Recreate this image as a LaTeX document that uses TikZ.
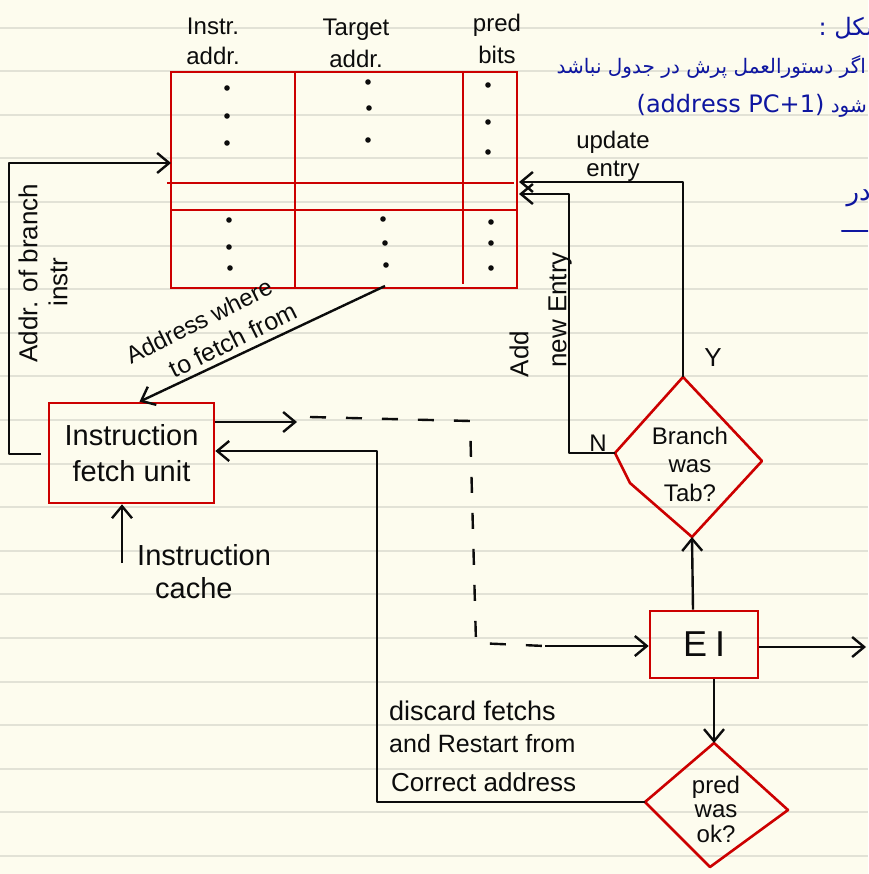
\documentclass[tikz,border=0pt]{standalone}
\usepackage{fontspec}
\setmainfont{Liberation Sans}
\newfontfamily\arabicfont[Script=Arabic]{DejaVu Sans}
\TeXXeTstate=1
\usetikzlibrary{arrows.meta}
\definecolor{paper}{RGB}{253,252,238}
\definecolor{ruling}{RGB}{226,226,214}
\definecolor{boxred}{RGB}{204,0,0}
\definecolor{ink}{RGB}{12,12,12}
\definecolor{pen}{RGB}{14,22,160}
\newcommand\hsz[2]{\fontsize{#1}{#2}\selectfont}
\tikzset{
  wire/.style={draw=ink, line width=2.4pt, line join=round},
  arr/.style={wire, -{Straight Barb[length=12pt,width=20pt]}},
  dashwire/.style={wire, dash pattern=on 16pt off 20pt},
  redline/.style={draw=boxred, line width=2.6pt},
  redbox/.style={draw=boxred, line width=2.6pt, inner sep=0pt, align=center, text=ink},
  hw/.style={text=ink, inner sep=0pt, align=center},
  dotmark/.style={fill=ink},
  fa/.style={text=pen, inner sep=0pt, font=\arabicfont\hsz{20}{24}},
}
\begin{document}
\begin{tikzpicture}[x=1pt,y=-1pt]
\useasboundingbox (0,0) rectangle (868,874);
\clip (0,0) rectangle (868,874);
\fill[paper] (0,0) rectangle (868,874);
\foreach \k in {0,...,19} {
  \draw[ruling, line width=2pt] (0,{27.6+43.6*\k}) -- (868,{27.6+43.6*\k});
}

% ---------- table ----------
\node[draw=boxred, line width=2.6pt, minimum width=346pt, minimum height=216pt, inner sep=0pt] (tbl) at (344,180) {};
\draw[redline] (295,72) -- (295,288);
\draw[redline] (463,72) -- (463,284);
\draw[redline] (167,183) -- (514,183);
\draw[redline] (171,210) -- (517,210);

\node[hw, font=\hsz{24}{30}] (h1) at (213,41) {Instr.\\addr.};
\node[hw, font=\hsz{24}{32}] (h2) at (356,43) {Target\\addr.};
\node[hw, font=\hsz{24}{32}] (h3) at (497,39) {pred\\bits};

\foreach \p in {(227,88),(227,116),(227,143),(368,82),(369,108),(368,140),(488,85),(488,122),(488,152),
                (229,220),(229,247),(230,268),(383,219),(385,243),(386,265),(491,222),(491,243),(491,268)} {
  \fill[dotmark] \p circle (2.8pt);
}

% ---------- boxes ----------
\node[redbox, minimum width=165pt, minimum height=100pt, font=\hsz{29}{36}] (ifu) at (131.5,453) {Instruction\\fetch unit};
\node[redbox, minimum width=108pt, minimum height=67pt, font=\hsz{36}{40}] (ei) at (704,644.5) {E\hspace{8pt}I};

% branch diamond
\coordinate (bT) at (683,377);
\coordinate (bL) at (615,453);
\coordinate (bK) at (630,483);
\coordinate (bB) at (692,537);
\coordinate (bR) at (762,461);
\draw[redline, line join=round] (bT) -- (bR) -- (bB) -- (bK) -- (bL) -- cycle;
\node[hw, font=\hsz{24}{28.5}] (bw) at (690,464) {Branch\\was\\Tab?};

% pred diamond
\coordinate (pT) at (714,743);
\coordinate (pL) at (645,802);
\coordinate (pR) at (788,810);
\coordinate (pB) at (710,867);
\draw[redline, line join=round] (pT) -- (pR) -- (pB) -- (pL) -- cycle;
\node[hw, font=\hsz{24}{24.5}] (pok) at (716,809) {pred\\was\\ok?};

% ---------- connectors ----------
\coordinate (tIn1) at (171,163);
\coordinate (tIn2) at (519,182);
\coordinate (tIn3) at (519,194);
\coordinate (tOut) at (385,286);
\coordinate (loopS) at (41,454);
\draw[arr] (loopS) -- (9,454) -- (9,163) -- (tIn1);
\draw[arr] (tOut) -- ([xshift=8pt]ifu.north);

\coordinate (dashS) at (297,422);
\draw[arr] ([yshift=31pt]ifu.east) -- (dashS);
\coordinate (dashE) at (545,646);
\draw[dashwire] (310,417) -- (470,421) -- (476,643) -- (dashE);
\draw[arr] (dashE) -- ([yshift=-1.5pt]ei.west);

\draw[arr] (pL) -- (377,802) -- (377,451) -- ([yshift=2pt]ifu.east);
\draw[arr] ([xshift=10pt]ei.south) -- (pT);
\draw[arr] ([xshift=-11pt]ei.north) -- (bB);
\coordinate (eiOut) at (866,647);
\draw[arr] ([yshift=-2.5pt]ei.east) -- (eiOut);
\draw[arr] (bT) -- (683,182) -- (tIn2);
\draw[arr] (bL) -- (569,453) -- (569,194) -- (tIn3);
\coordinate (cacheS) at (122,563);
\draw[arr] (cacheS) -- ([xshift=-9.5pt]ifu.south);

% ---------- labels ----------
\node[hw, font=\hsz{26}{30}, rotate=90] (lb1) at (28,273) {Addr. of branch};
\node[hw, font=\hsz{26}{30}, rotate=90] (lb2) at (58,282) {instr};
\node[hw, font=\hsz{24}{30}, rotate=26.5] (lw1) at (199,321) {Address where};
\node[hw, font=\hsz{25}{30}, rotate=26.5] (lw2) at (233,340) {to fetch from};
\node[hw, font=\hsz{24}{28}] (lup) at (613,156) {update\\entry};
\node[hw, font=\hsz{26}{30}, rotate=90] (la1) at (519,354) {Add};
\node[hw, font=\hsz{26}{30}, rotate=90] (la2) at (560,310) {new Entry};
\node[hw, font=\hsz{26}{30}] (ly) at (713,358) {Y};
\node[hw, font=\hsz{24}{30}] (ln) at (598,443) {N};
\node[hw, font=\hsz{29}{34}, anchor=west] (lc1) at (137,555) {Instruction};
\node[hw, font=\hsz{29}{34}, anchor=west] (lc2) at (155,588) {cache};
\node[hw, font=\hsz{27}{30}, anchor=west] (ld1) at (389,711) {discard fetchs};
\node[hw, font=\hsz{25}{30}, anchor=west] (ld2) at (389,744) {and Restart from};
\node[hw, font=\hsz{26}{30}, anchor=west] (ld3) at (391,782) {Correct address};

% ---------- Persian notes ----------
\node[fa, anchor=east, font=\arabicfont\hsz{24}{28}] (fa1) at (886,28) {\beginR شکل :\endR};
\node[fa, anchor=east] (fa2) at (866,67) {\beginR اگر دستورالعمل پرش در جدول نباشد\endR};
\node[fa, anchor=east] (fa3) at (867,106) {\beginR شود \beginL{\hsz{24}{28}(address PC+1)}\endL{}\endR};
\node[fa, anchor=east, font=\arabicfont\hsz{26}{30}] (fa4) at (871,198) {\beginR در\endR};
\draw[pen, line width=2.2pt, line cap=round] (842,231) -- (868,231);
\end{tikzpicture}
\end{document}
